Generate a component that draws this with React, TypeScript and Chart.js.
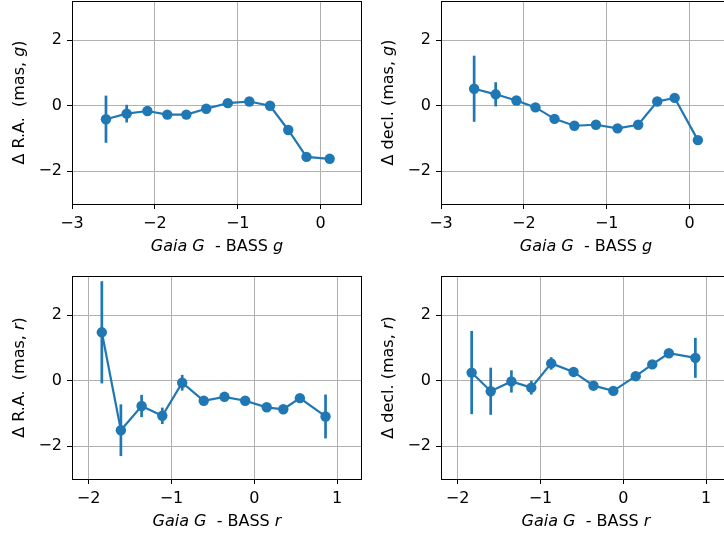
import React, { useEffect, useRef } from 'react';
import { Chart, registerables } from 'chart.js';
Chart.register(...registerables);

// ---- data ----
const raG_x = [-2.59, -2.34, -2.09, -1.85, -1.62, -1.38, -1.12, -0.86, -0.61, -0.39, -0.17, 0.11];
const raG_y = [-0.41, -0.24, -0.16, -0.27, -0.27, -0.09, 0.08, 0.13, 0.0, -0.74, -1.56, -1.62];
const raG_err = [0.72, 0.27, 0.1, 0.08, 0.08, 0.08, 0.08, 0.08, 0.08, 0.1, 0.1, 0.1];

const decG_x = [-2.6, -2.34, -2.09, -1.86, -1.63, -1.39, -1.13, -0.87, -0.62, -0.39, -0.18, 0.1];
const decG_y = [0.52, 0.35, 0.16, -0.05, -0.4, -0.61, -0.58, -0.69, -0.58, 0.13, 0.24, -1.05];
const decG_err = [1.01, 0.37, 0.1, 0.08, 0.08, 0.08, 0.08, 0.08, 0.08, 0.1, 0.1, 0.1];

const raR_x = [-1.84, -1.61, -1.36, -1.11, -0.87, -0.61, -0.36, -0.11, 0.15, 0.35, 0.55, 0.86];
const raR_y = [1.48, -1.51, -0.77, -1.07, -0.06, -0.61, -0.49, -0.61, -0.81, -0.87, -0.53, -1.09];
const raR_err = [1.56, 0.79, 0.34, 0.25, 0.24, 0.08, 0.08, 0.08, 0.08, 0.08, 0.08, 0.67];

const decR_x = [-1.83, -1.6, -1.35, -1.11, -0.87, -0.6, -0.36, -0.12, 0.15, 0.35, 0.55, 0.87];
const decR_y = [0.25, -0.32, -0.02, -0.21, 0.53, 0.27, -0.15, -0.31, 0.14, 0.5, 0.84, 0.7];
const decR_err = [1.27, 0.72, 0.34, 0.21, 0.19, 0.08, 0.08, 0.08, 0.08, 0.08, 0.08, 0.61];

const gTicksX = [-3, -2, -1, 0];
const rTicksX = [-2, -1, 0, 1];
const ticksY = [-2, 0, 2];

const COLOR = '#1f77b4';
const FONT = 'DejaVu Sans';
const FS = 16;

type Seg = { t: string; it?: boolean };

function drawSegs(ctx: CanvasRenderingContext2D, segs: Seg[], cx: number, cy: number, rot: number) {
  ctx.save();
  ctx.translate(cx, cy);
  ctx.rotate(rot);
  ctx.fillStyle = '#000';
  ctx.textBaseline = 'alphabetic';
  ctx.textAlign = 'left';
  let total = 0;
  const widths = segs.map((s) => {
    ctx.font = `${s.it ? 'italic ' : ''}${FS}px "${FONT}"`;
    const w = ctx.measureText(s.t).width;
    total += w;
    return w;
  });
  let x = -total / 2;
  segs.forEach((s, i) => {
    ctx.font = `${s.it ? 'italic ' : ''}${FS}px "${FONT}"`;
    ctx.fillText(s.t, x, 0);
    x += widths[i];
  });
  ctx.restore();
}

type PanelProps = {
  left: number; top: number; W: number; H: number;
  area: { l: number; t: number; r: number; b: number };
  xs: number[]; ys: number[]; errs: number[];
  xmin: number; xmax: number; xticks: number[];
  xlabel: Seg[]; ylabel: Seg[];
};

const fmt = (v: number) => (v < 0 ? '\u2212' + Math.abs(v) : String(v));

function Panel(p: PanelProps) {
  const ref = useRef<HTMLCanvasElement>(null);
  useEffect(() => {
    const canvas = ref.current!;
    const extra = {
      id: 'extra',
      beforeDatasetsDraw(chart: any) {
        const { ctx, chartArea, scales } = chart;
        ctx.save();
        ctx.beginPath();
        ctx.rect(chartArea.left, chartArea.top, chartArea.right - chartArea.left, chartArea.bottom - chartArea.top);
        ctx.clip();
        ctx.strokeStyle = COLOR;
        ctx.lineWidth = 2.7;
        p.xs.forEach((x, i) => {
          const px = scales.x.getPixelForValue(x);
          const y1 = scales.y.getPixelForValue(p.ys[i] + p.errs[i]);
          const y2 = scales.y.getPixelForValue(p.ys[i] - p.errs[i]);
          ctx.beginPath();
          ctx.moveTo(px, y1);
          ctx.lineTo(px, y2);
          ctx.stroke();
        });
        ctx.restore();
      },
      afterDraw(chart: any) {
        const { ctx, chartArea } = chart;
        ctx.save();
        ctx.strokeStyle = '#000';
        ctx.lineWidth = 1;
        ctx.strokeRect(
          Math.round(chartArea.left) + 0.5,
          Math.round(chartArea.top) + 0.5,
          Math.round(chartArea.right - chartArea.left) - 1,
          Math.round(chartArea.bottom - chartArea.top)
        );
        ctx.restore();
        drawSegs(ctx, p.xlabel, (chartArea.left + chartArea.right) / 2, chartArea.bottom + 47, 0);
        drawSegs(ctx, p.ylabel, chartArea.left - 48, (chartArea.top + chartArea.bottom) / 2, -Math.PI / 2);
      },
    };
    const chart = new Chart(canvas, {
      type: 'line',
      data: {
        datasets: [
          {
            data: p.xs.map((x, i) => ({ x, y: p.ys[i] })),
            borderColor: COLOR,
            backgroundColor: COLOR,
            borderWidth: 2.2,
            pointRadius: 5.2,
            pointHoverRadius: 5.2,
            pointBorderWidth: 0,
            pointBackgroundColor: COLOR,
            tension: 0,
          },
        ],
      },
      options: {
        animation: false,
        responsive: false,
        events: [],
        layout: { autoPadding: false, padding: { top: p.area.t, right: p.W - p.area.r, left: 0, bottom: 0 } },
        plugins: { legend: { display: false }, tooltip: { enabled: false } },
        scales: {
          x: {
            type: 'linear',
            min: p.xmin,
            max: p.xmax,
            afterBuildTicks: (s: any) => { s.ticks = p.xticks.map((v) => ({ value: v })); },
            afterFit: (s: any) => { s.height = p.H - p.area.b; s.paddingLeft = 0; s.paddingRight = 0; },
            grid: { color: '#b0b0b0', lineWidth: 1, tickColor: '#000', tickLength: 5 },
            border: { display: false },
            ticks: { color: '#000', font: { family: FONT, size: FS }, padding: 5, maxRotation: 0, callback: (v: any) => fmt(Number(v)) },
          },
          y: {
            type: 'linear',
            min: -3,
            max: 3.2,
            afterBuildTicks: (s: any) => { s.ticks = ticksY.map((v) => ({ value: v })); },
            afterFit: (s: any) => { s.width = p.area.l; s.paddingTop = 0; s.paddingBottom = 0; },
            grid: { color: '#b0b0b0', lineWidth: 1, tickColor: '#000', tickLength: 5 },
            border: { display: false },
            ticks: { color: '#000', font: { family: FONT, size: FS }, padding: 5, callback: (v: any) => fmt(Number(v)) },
          },
        },
      },
      plugins: [extra],
    });
    return () => chart.destroy();
  }, []);
  return (
    <div style={{ position: 'absolute', left: p.left, top: p.top, width: p.W, height: p.H }}>
      <canvas ref={ref} width={p.W} height={p.H} style={{ width: p.W, height: p.H, display: 'block' }} />
    </div>
  );
}

export default function App() {
  const gLabel: Seg[] = [{ t: 'Gaia G', it: true }, { t: '  - BASS ' }, { t: 'g', it: true }];
  const rLabel: Seg[] = [{ t: 'Gaia G', it: true }, { t: '  - BASS ' }, { t: 'r', it: true }];
  return (
    <div style={{ position: 'fixed', left: 0, top: 0, width: 724, height: 536, overflow: 'hidden', background: '#fff' }}>
      <Panel left={0} top={0} W={370} H={268} area={{ l: 72, t: 1, r: 362, b: 204 }}
        xs={raG_x} ys={raG_y} errs={raG_err} xmin={-3} xmax={0.5} xticks={gTicksX}
        xlabel={gLabel} ylabel={[{ t: '\u0394 R.A.  (mas, ' }, { t: 'g', it: true }, { t: ')' }]} />
      <Panel left={370} top={0} W={370} H={268} area={{ l: 71, t: 1, r: 361, b: 204 }}
        xs={decG_x} ys={decG_y} errs={decG_err} xmin={-3} xmax={0.5} xticks={gTicksX}
        xlabel={gLabel} ylabel={[{ t: '\u0394 decl. (mas, ' }, { t: 'g', it: true }, { t: ')' }]} />
      <Panel left={0} top={268} W={370} H={268} area={{ l: 72, t: 8, r: 362, b: 211 }}
        xs={raR_x} ys={raR_y} errs={raR_err} xmin={-2.2} xmax={1.3} xticks={rTicksX}
        xlabel={rLabel} ylabel={[{ t: '\u0394 R.A.  (mas, ' }, { t: 'r', it: true }, { t: ')' }]} />
      <Panel left={370} top={268} W={370} H={268} area={{ l: 71, t: 8, r: 361, b: 211 }}
        xs={decR_x} ys={decR_y} errs={decR_err} xmin={-2.2} xmax={1.3} xticks={rTicksX}
        xlabel={rLabel} ylabel={[{ t: '\u0394 decl. (mas, ' }, { t: 'r', it: true }, { t: ')' }]} />
    </div>
  );
}
